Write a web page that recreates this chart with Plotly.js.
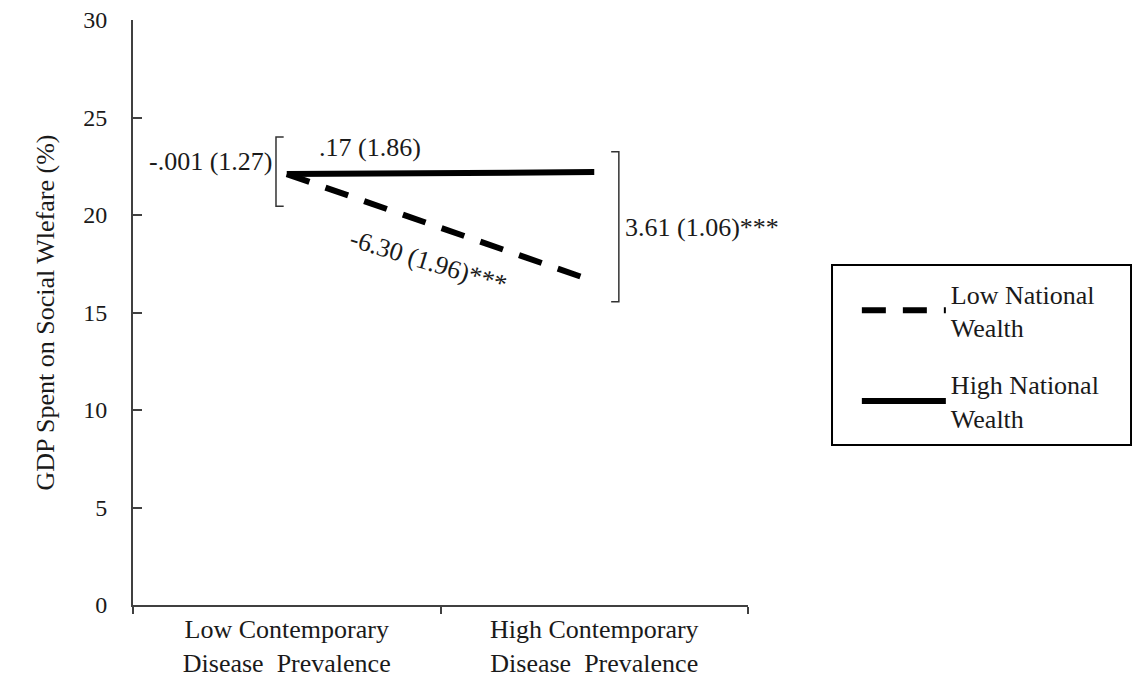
<!DOCTYPE html>
<html>
<head>
<meta charset="utf-8">
<script src="https://cdn.plot.ly/plotly-3.0.1.min.js"></script>
<style>html,body{margin:0;padding:0;background:#fff;}#chart{width:1132px;height:681px;}</style>
</head>
<body>
<div id="chart"></div>
<script>
const categories = ["Low Contemporary<br>Disease\u00a0 Prevalence", "High Contemporary<br>Disease\u00a0 Prevalence"];
const seriesNames = ["Low National<br>Wealth", "High National<br>Wealth"];
const lowWealth = [22.1, 16.6];
const highWealth = [22.1, 22.2];
const yTicks = [0, 5, 10, 15, 20, 25, 30];
const yTitle = "GDP Spent on Social Wlefare (%)";
const effectLabels = ["-.001 (1.27)", ".17 (1.86)", "-6.30 (1.96)***", "3.61 (1.06)***"];

const FONT = "Liberation Serif, Times New Roman, serif";
const TXT = "#1a1a1a";

const traces = [
  {x: categories, y: lowWealth, name: seriesNames[0], type: "scatter", mode: "lines",
   legendgroup: "low", line: {color: "#000", width: 6, dash: "24px,17px"}},
  {x: categories, y: highWealth, name: seriesNames[1], type: "scatter", mode: "lines",
   legendgroup: "high", line: {color: "#000", width: 6}}
];

const layout = {
  width: 1132, height: 681,
  margin: {l: 133, r: 384, t: 20, b: 76},
  paper_bgcolor: "#fff", plot_bgcolor: "#fff",
  font: {family: FONT, size: 26, color: TXT},
  showlegend: true,
  legend: {
    x: 1.177, y: 0.5726, xanchor: "left", yanchor: "top",
    borderwidth: 0, bgcolor: "rgba(0,0,0,0)",
    font: {family: FONT, size: 26, color: TXT},
    itemwidth: 84, tracegroupgap: 20
  },
  xaxis: {
    type: "category", range: [-0.5, 1.5],
    showline: true, linecolor: "#404040", linewidth: 2,
    ticks: "outside", ticklen: 7, tickwidth: 2, tickcolor: "#404040",
    tickson: "boundaries", showgrid: false, zeroline: false,
    tickfont: {family: FONT, size: 26, color: TXT},
    fixedrange: true
  },
  yaxis: {
    range: [0, 30], tickvals: yTicks, ticktext: yTicks.map(String),
    showline: true, linecolor: "#404040", linewidth: 2,
    ticks: "inside", ticklen: 9, tickwidth: 2, tickcolor: "#404040",
    ticklabelstandoff: 19,
    showgrid: false, zeroline: false,
    tickfont: {family: FONT, size: 24, color: TXT},
    title: {text: yTitle, font: {family: FONT, size: 26, color: TXT}, standoff: 21},
    fixedrange: true
  },
  shapes: [
    {type: "rect", xref: "paper", yref: "paper", x0: 1.1366, x1: 1.6228, y0: 0.2735, y1: 0.5812,
     line: {color: "#000", width: 2}, fillcolor: "rgba(0,0,0,0)"},
    {type: "path", xref: "x", yref: "y",
     path: "M -0.01 24.0 L -0.035 24.0 L -0.035 20.45 L -0.01 20.45",
     line: {color: "#333", width: 1.5}},
    {type: "path", xref: "x", yref: "y",
     path: "M 1.055 23.25 L 1.08 23.25 L 1.08 15.55 L 1.055 15.55",
     line: {color: "#333", width: 1.5}}
  ],
  annotations: [
    {xref: "x", yref: "y", x: -0.04, y: 22.75, text: effectLabels[0], showarrow: false,
     xanchor: "right", yanchor: "middle", font: {family: FONT, size: 26, color: TXT}},
    {xref: "x", yref: "y", x: 0.27, y: 23.45, text: effectLabels[1], showarrow: false,
     xanchor: "center", yanchor: "middle", font: {family: FONT, size: 26, color: TXT}},
    {xref: "x", yref: "y", x: 0.46, y: 17.6, text: effectLabels[2], showarrow: false,
     textangle: 17, xanchor: "center", yanchor: "middle", font: {family: FONT, size: 26, color: TXT}},
    {xref: "x", yref: "y", x: 1.095, y: 19.35, text: effectLabels[3], showarrow: false,
     xanchor: "left", yanchor: "middle", font: {family: FONT, size: 26, color: TXT}}
  ]
};

Plotly.newPlot("chart", traces, layout, {displayModeBar: false, staticPlot: true});
</script>
</body>
</html>
